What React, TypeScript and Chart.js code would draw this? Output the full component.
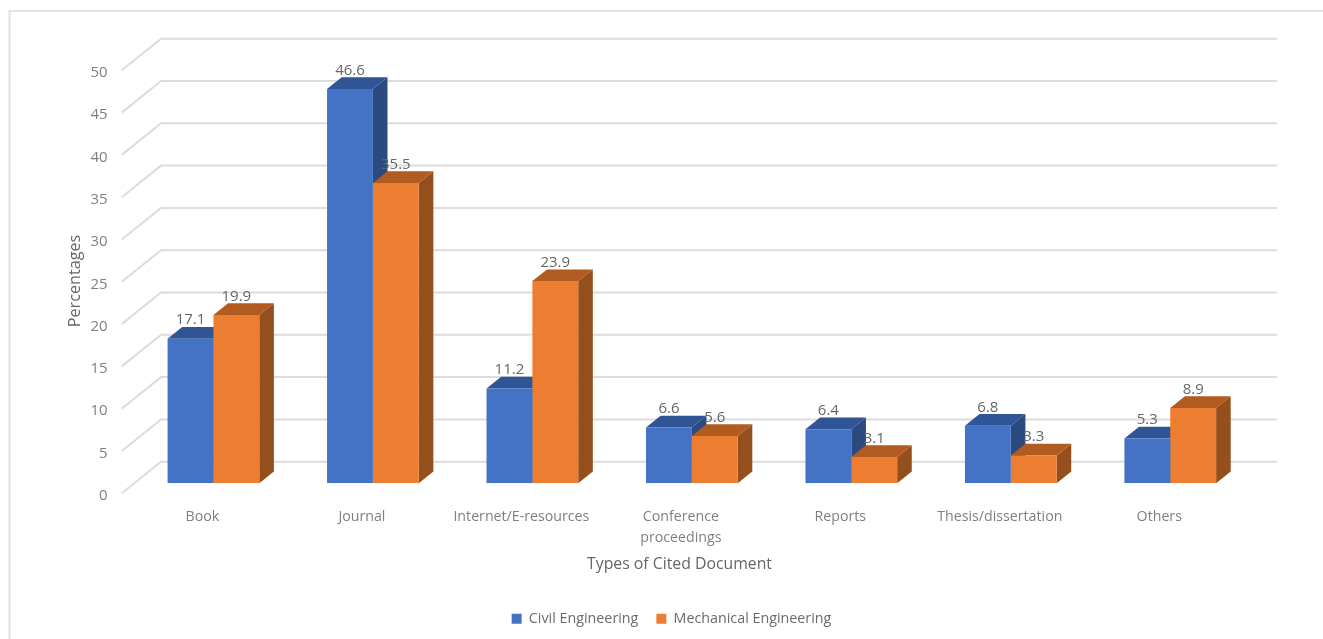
import React, { useEffect, useRef } from "react";
import { Chart, registerables } from "chart.js";

Chart.register(...registerables);

const categories = [
  "Book",
  "Journal",
  "Internet/E-resources",
  ["Conference", "proceedings"],
  "Reports",
  "Thesis/dissertation",
  "Others",
];
const civilEngineering = [17.1, 46.6, 11.2, 6.6, 6.4, 6.8, 5.3];
const mechanicalEngineering = [19.9, 35.5, 23.9, 5.6, 3.1, 3.3, 8.9];
const yTicks = [0, 5, 10, 15, 20, 25, 30, 35, 40, 45, 50];
const xTitle = "Types of Cited Document";
const yTitle = "Percentages";

const FONT = "'Open Sans', sans-serif";
const GRAY = "#7f7f7f";
const faceColors = [
  { side: "#2b4a80", top: "#2f5597" },
  { side: "#954f1c", top: "#b15b20" },
];

const bar3d = {
  id: "bar3d",
  beforeDatasetsDraw(chart: any) {
    const { ctx } = chart;
    const dx = 14.6;
    const dy = -11.7;
    chart.data.labels.forEach((_: any, i: number) => {
      chart.data.datasets.forEach((_d: any, d: number) => {
        const el = chart.getDatasetMeta(d).data[i];
        const l = el.x - el.width / 2;
        const r = el.x + el.width / 2;
        const t = el.y;
        const b = el.base;
        ctx.fillStyle = faceColors[d].side;
        ctx.beginPath();
        ctx.moveTo(r, t);
        ctx.lineTo(r + dx, t + dy);
        ctx.lineTo(r + dx, b + dy);
        ctx.lineTo(r, b);
        ctx.closePath();
        ctx.fill();
        ctx.fillStyle = faceColors[d].top;
        ctx.beginPath();
        ctx.moveTo(l, t);
        ctx.lineTo(l + dx, t + dy);
        ctx.lineTo(r + dx, t + dy);
        ctx.lineTo(r, t);
        ctx.closePath();
        ctx.fill();
      });
    });
  },
  afterDatasetsDraw(chart: any) {
    const { ctx } = chart;
    ctx.save();
    ctx.font = `15px ${FONT}`;
    ctx.fillStyle = "#666666";
    ctx.textAlign = "center";
    ctx.textBaseline = "middle";
    chart.data.datasets.forEach((ds: any, d: number) => {
      chart.getDatasetMeta(d).data.forEach((el: any, i: number) => {
        ctx.fillText(ds.data[i].toFixed(1), el.x, el.y - 18.5);
      });
    });
    ctx.restore();
  },
};

const wall3d = {
  id: "wall3d",
  beforeDraw(chart: any) {
    const { ctx, chartArea, width, height } = chart;
    const y = chart.scales.y;
    // place the legend under the picture's own centre line
    chart.legend.left = 93;
    ctx.save();
    ctx.fillStyle = "#ffffff";
    ctx.fillRect(0, 0, width, height);
    // picture frame
    ctx.strokeStyle = "#e2e2e2";
    ctx.lineWidth = 2;
    ctx.beginPath();
    ctx.moveTo(9.5, height);
    ctx.lineTo(9.5, 11);
    ctx.lineTo(width, 11);
    ctx.stroke();
    // walls
    ctx.strokeStyle = "#dcdcdc";
    ctx.lineWidth = 2;
    y.ticks.forEach((tick: any) => {
      const p = y.getPixelForValue(tick.value);
      ctx.beginPath();
      ctx.moveTo(chartArea.left - 12, p + 10);
      ctx.lineTo(chartArea.left + 27.3, p - 21.6);
      ctx.lineTo(chartArea.right + 27, p - 21.6);
      ctx.stroke();
    });
    ctx.restore();
  },
  afterDraw(chart: any) {
    const { ctx } = chart;
    ctx.save();
    ctx.fillStyle = "#666666";
    ctx.textAlign = "center";
    ctx.textBaseline = "middle";
    ctx.font = `15.8px ${FONT}`;
    ctx.fillText(xTitle, 679.5, 564);
    ctx.translate(75, 281);
    ctx.rotate(-Math.PI / 2);
    ctx.font = `16.2px ${FONT}`;
    ctx.fillText(yTitle, 0, 0);
    ctx.restore();
  },
};

export default function App() {
  const ref = useRef<HTMLCanvasElement | null>(null);
  useEffect(() => {
    const chart = new Chart(ref.current!, {
      type: "bar",
      data: {
        labels: categories as any,
        datasets: [
          {
            label: "Civil Engineering",
            data: civilEngineering,
            backgroundColor: "#4472c4",
            categoryPercentage: 0.575,
            barPercentage: 1,
          },
          {
            label: "Mechanical Engineering",
            data: mechanicalEngineering,
            backgroundColor: "#ed7d31",
            categoryPercentage: 0.575,
            barPercentage: 1,
          },
        ],
      },
      options: {
        responsive: false,
        animation: false,
        layout: { padding: { left: 62, right: 73, top: 60.3, bottom: 3 } },
        plugins: {
          tooltip: { enabled: false },
          legend: {
            position: "bottom",
            labels: {
              boxWidth: 10,
              boxHeight: 10,
              padding: 18,
              color: "#6b6b6b",
              font: { family: FONT, size: 14.3 },
            },
          },
        },
        scales: {
          x: {
            grid: { display: false, drawTicks: false },
            border: { display: false },
            afterFit(s: any) {
              s.height = 110.4;
            },
            ticks: {
              color: GRAY,
              padding: 23,
              labelOffset: -11,
              maxRotation: 0,
              autoSkip: false,
              font: { family: FONT, size: 14.2, lineHeight: 1.5 },
            },
          },
          y: {
            min: 0,
            max: 50,
            afterBuildTicks(s: any) {
              s.ticks = yTicks.map((value) => ({ value }));
            },
            afterFit(s: any) {
              s.width = 133.7 - 62;
            },
            grid: { display: false, drawTicks: false },
            border: { display: false },
            ticks: {
              color: GRAY,
              padding: 26,
              labelOffset: 12.5,
              font: { family: FONT, size: 15 },
            },
          },
        },
      },
      plugins: [wall3d, bar3d],
    } as any);
    return () => chart.destroy();
  }, []);
  return (
    <canvas
      ref={ref}
      width={1323}
      height={639}
      style={{
        position: "fixed",
        left: 0,
        top: 0,
        display: "block",
        width: 1323,
        height: 639,
        filter: "blur(0.5px)",
      }}
    />
  );
}
